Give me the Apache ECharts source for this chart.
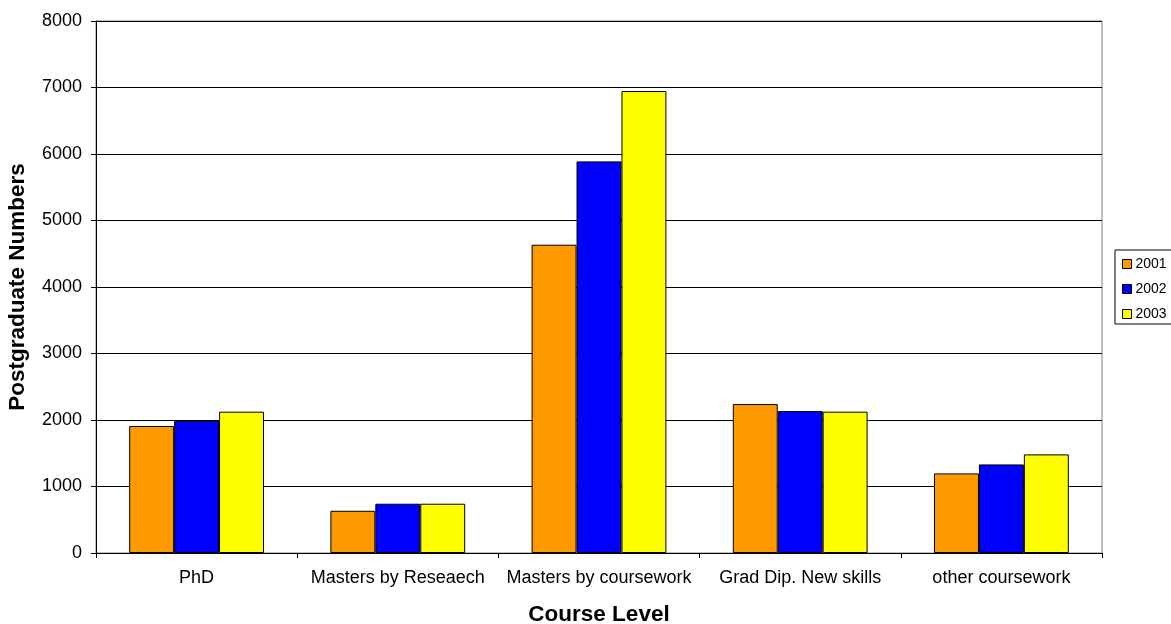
<!DOCTYPE html>
<html>
<head>
<meta charset="utf-8">
<script src="https://cdn.jsdelivr.net/npm/echarts@6/dist/echarts.min.js"></script>
<style>
html,body{margin:0;padding:0;background:#fff;}
#chart{width:1171px;height:624px;}
</style>
</head>
<body>
<div id="chart"></div>
<script>
const categories = ["PhD", "Masters by Reseaech", "Masters by coursework", "Grad Dip. New skills", "other coursework"];
const seriesNames = ["2001", "2002", "2003"];
const values2001 = [1910, 635, 4636, 2240, 1197];
const values2002 = [1988, 741, 5889, 2135, 1332];
const values2003 = [2125, 741, 6947, 2125, 1483];
const yTicks = { min: 0, max: 8000, interval: 1000 };
const colors = ["#FF9900", "#0000FF", "#FFFF00"];

const font = "Liberation Sans, Arial, sans-serif";
const chart = echarts.init(document.getElementById('chart'), null, { renderer: 'canvas' });
const dataSets = [values2001, values2002, values2003];

chart.setOption({
  animation: false,
  backgroundColor: '#fff',
  textStyle: { fontFamily: font },
  grid: { left: 96, right: 69, top: 21, bottom: 71, containLabel: false, outerBoundsMode: 'none', show: true, borderColor: '#808080', borderWidth: 1, backgroundColor: 'transparent' },
  legend: {
    orient: 'vertical',
    left: 1115, top: 250,
    data: seriesNames,
    icon: 'rect',
    itemWidth: 9, itemHeight: 9, itemGap: 11,
    borderColor: '#000', borderWidth: 1,
    padding: [7, 10, 3, 7],
    textStyle: { fontSize: 14, color: '#000', fontFamily: font, padding: [0, 0, 0, -1] },
    itemStyle: { borderColor: '#000', borderWidth: 1 }
  },
  xAxis: {
    type: 'category',
    data: categories,
    name: 'Course Level',
    nameLocation: 'middle',
    nameGap: 50,
    nameTextStyle: { fontSize: 22.5, fontWeight: 'bold', color: '#000', fontFamily: font },
    axisLine: { lineStyle: { color: '#000', width: 1 } },
    axisTick: { show: true, length: 5, inside: false, interval: 0, lineStyle: { color: '#000' } },
    axisLabel: { fontSize: 18, color: '#000', margin: 16, interval: 0, hideOverlap: false, fontFamily: font },
    splitLine: { show: false }
  },
  yAxis: {
    type: 'value',
    min: yTicks.min, max: yTicks.max, interval: yTicks.interval,
    name: 'Postgraduate Numbers',
    nameLocation: 'middle',
    nameGap: 67,
    nameTextStyle: { fontSize: 22.5, fontWeight: 'bold', color: '#000', fontFamily: font },
    axisLine: { show: true, lineStyle: { color: '#000', width: 1 } },
    axisTick: { show: true, length: 5, lineStyle: { color: '#000' } },
    axisLabel: { fontSize: 18, color: '#000', margin: 14, fontFamily: font, formatter: v => String(v) },
    splitLine: { show: true, lineStyle: { color: '#000', width: 1 } }
  },
  series: seriesNames.map((n, i) => ({
    name: n,
    type: 'bar',
    data: dataSets[i],
    barGap: '0%',
    barCategoryGap: '33%',
    itemStyle: { color: colors[i], borderColor: '#000', borderWidth: 1 }
  }))
});
</script>
</body>
</html>
